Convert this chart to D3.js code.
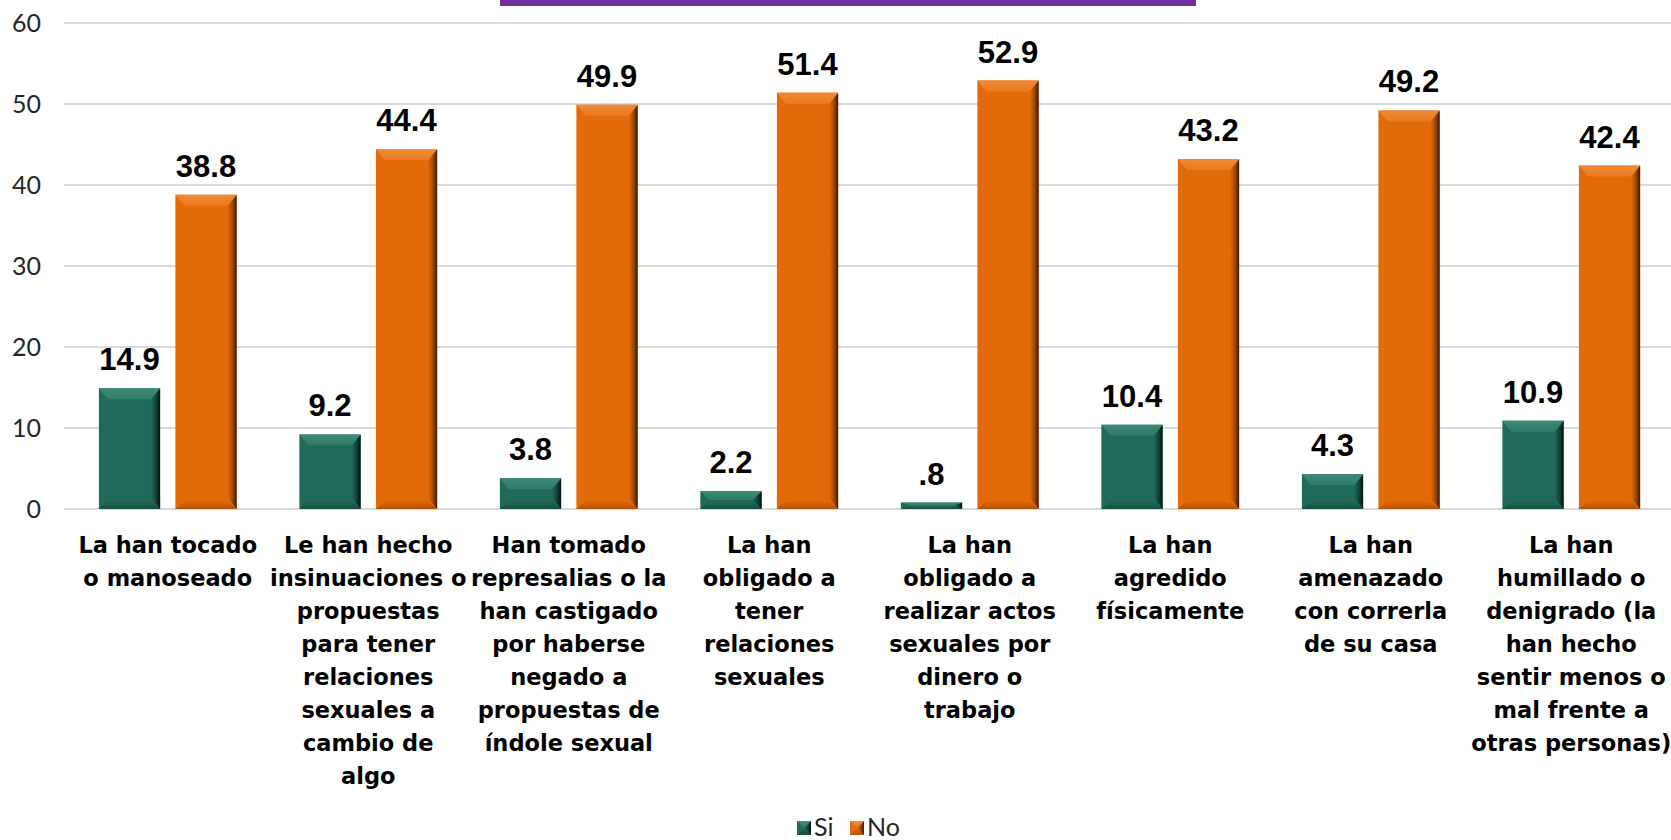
<!DOCTYPE html>
<html>
<head>
<meta charset="utf-8">
<script src="https://cdn.jsdelivr.net/npm/d3@7"></script>
<style>
  html, body { margin: 0; padding: 0; background: #ffffff; }
  svg { display: block; }
</style>
</head>
<body>
<svg id="chart" width="1671" height="840"></svg>
<script>
// Category labels, already broken into lines
const categories = [
  ["La han tocado", "o manoseado"],
  ["Le han hecho", "insinuaciones o", "propuestas", "para tener", "relaciones", "sexuales a", "cambio de", "algo"],
  ["Han tomado", "represalias o la", "han castigado", "por haberse", "negado a", "propuestas de", "índole sexual"],
  ["La han", "obligado a", "tener", "relaciones", "sexuales"],
  ["La han", "obligado a", "realizar actos", "sexuales por", "dinero o", "trabajo"],
  ["La han", "agredido", "físicamente"],
  ["La han", "amenazado", "con correrla", "de su casa"],
  ["La han", "humillado o", "denigrado (la", "han hecho", "sentir menos o", "mal frente a", "otras personas)"]
];
const seriesNames = ["Si", "No"];
const siValues = [14.9, 9.2, 3.8, 2.2, 0.8, 10.4, 4.3, 10.9];
const noValues = [38.8, 44.4, 49.9, 51.4, 52.9, 43.2, 49.2, 42.4];
const yTicks = [0, 10, 20, 30, 40, 50, 60];

const W = 1671, H = 840;
const svg = d3.select("#chart");
const defs = svg.append("defs");

const palette = {
  Si: { base: "#1F6A5A", light: "#3E8A78", lighter: "#2E7B69", dark: "#124438", darkest: "#03110D" },
  No: { base: "#E26A08", light: "#F08A38", lighter: "#EA7A20", dark: "#A04804", darkest: "#3A1800" }
};

// Gradients for the bevelled faces
Object.entries(palette).forEach(([k, c]) => {
  const gTop = defs.append("linearGradient").attr("id", "top-" + k)
    .attr("x1", 0).attr("y1", 0).attr("x2", 0).attr("y2", 1);
  gTop.append("stop").attr("offset", "0%").attr("stop-color", c.light);
  gTop.append("stop").attr("offset", "100%").attr("stop-color", c.lighter);

  const gRight = defs.append("linearGradient").attr("id", "right-" + k)
    .attr("x1", 0).attr("y1", 0).attr("x2", 1).attr("y2", 0);
  gRight.append("stop").attr("offset", "0%").attr("stop-color", c.base);
  gRight.append("stop").attr("offset", "55%").attr("stop-color", c.dark);
  gRight.append("stop").attr("offset", "100%").attr("stop-color", c.darkest);

  const gBottom = defs.append("linearGradient").attr("id", "bottom-" + k)
    .attr("x1", 0).attr("y1", 0).attr("x2", 0).attr("y2", 1);
  gBottom.append("stop").attr("offset", "0%").attr("stop-color", c.base);
  gBottom.append("stop").attr("offset", "100%").attr("stop-color", c.dark);
});

// Scales
const catIdx = d3.range(categories.length);
const x0 = d3.scaleBand().domain(catIdx).range([67.5, 1671.5]).paddingInner(0).paddingOuter(0);
const x1 = d3.scaleBand().domain(seriesNames).range([0, x0.bandwidth()]).paddingInner(0.2).paddingOuter(0.41);
const y = d3.scaleLinear().domain([0, 60]).range([509, 23]);

// Title accent bar
svg.append("rect").attr("x", 500).attr("y", 0).attr("width", 696).attr("height", 6).attr("fill", "#7030A0");

// Gridlines
svg.append("g").selectAll("line").data(yTicks).join("line")
  .attr("x1", 64).attr("x2", W)
  .attr("y1", d => y(d)).attr("y2", d => y(d))
  .attr("stroke", "#D9D9D9").attr("stroke-width", 2);

// Y-axis tick labels
const yAxis = d3.axisLeft(y).tickValues(yTicks).tickSize(0).tickPadding(0).tickFormat(d3.format("d"));
const yg = svg.append("g").attr("transform", "translate(41,0)").call(yAxis);
yg.select(".domain").remove();
yg.selectAll("text")
  .attr("font-family", "Lato, 'DejaVu Sans', sans-serif")
  .attr("font-size", 25).attr("fill", "#262626");

// Bevelled bar drawing
function bevelBar(g, x, yTop, w, h, key) {
  const b = Math.min(11, h / 2, w / 2);
  const bs = Math.min(9, w / 2);
  const xL = x, xR = x + w, yT = yTop, yB = yTop + h;
  g.append("rect").attr("x", xL).attr("y", yT).attr("width", w).attr("height", h)
    .attr("fill", palette[key].base);
  // right face
  g.append("polygon").attr("points", [[xR, yT], [xR, yB], [xR - bs, yB - b], [xR - bs, yT + b]].join(" "))
    .attr("fill", "url(#right-" + key + ")");
  // bottom face
  const bb = Math.min(8, h / 2);
  g.append("polygon").attr("points", [[xL, yB], [xR, yB], [xR - bs, yB - bb], [xL + bs, yB - bb]].join(" "))
    .attr("fill", "url(#bottom-" + key + ")").attr("opacity", 0.75);
  // top face
  g.append("polygon").attr("points", [[xL, yT], [xR, yT], [xR - bs, yT + b], [xL + bs, yT + b]].join(" "))
    .attr("fill", "url(#top-" + key + ")");
}

const fmt = v => d3.format(".1f")(v).replace(/^0\./, ".");

const rows = catIdx.map(i => ({ i, Si: siValues[i], No: noValues[i] }));
const groups = svg.append("g").selectAll("g").data(rows).join("g")
  .attr("transform", d => `translate(${x0(d.i)},0)`);

groups.each(function (d) {
  const g = d3.select(this);
  seriesNames.forEach(k => {
    const v = d[k];
    bevelBar(g, x1(k), y(v), x1.bandwidth(), y(0) - y(v), k);
    g.append("text")
      .attr("x", x1(k) + x1.bandwidth() / 2)
      .attr("y", y(v) - 18)
      .attr("text-anchor", "middle")
      .attr("font-family", "'Liberation Sans', Arial, sans-serif")
      .attr("font-weight", "bold")
      .attr("font-size", 31)
      .attr("fill", "#000")
      .text(fmt(v));
  });
});

// Category labels
const catG = svg.append("g").selectAll("text").data(rows).join("text")
  .attr("x", d => x0(d.i) + x0.bandwidth() / 2)
  .attr("y", 553)
  .attr("text-anchor", "middle")
  .attr("font-family", "'DejaVu Sans', sans-serif")
  .attr("font-weight", "bold")
  .attr("font-size", 22.5)
  .attr("fill", "#000");
catG.each(function (d) {
  const t = d3.select(this);
  categories[d.i].forEach((line, j) => {
    t.append("tspan")
      .attr("x", x0(d.i) + x0.bandwidth() / 2)
      .attr("y", 553 + j * 33)
      .text(line);
  });
});

// Legend
const legend = svg.append("g");
const legendItems = [{ k: "Si", x: 797 }, { k: "No", x: 850 }];
legendItems.forEach(it => {
  const lg = legend.append("g");
  bevelBar(lg, it.x, 821, 14, 14, it.k);
  lg.append("text").attr("x", it.x + 17).attr("y", 836)
    .attr("font-family", "Lato, 'DejaVu Sans', sans-serif")
    .attr("font-size", 25).attr("fill", "#262626")
    .text(it.k);
});
</script>
</body>
</html>
